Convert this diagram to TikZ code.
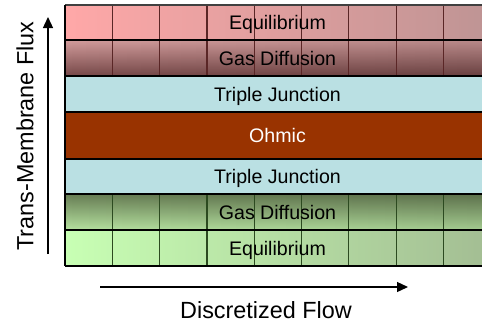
\documentclass[tikz,border=0pt]{standalone}
\usepackage{fontspec}
\setmainfont{Liberation Sans}
\usetikzlibrary{arrows.meta,fadings,calc}
\definecolor{eqLa}{HTML}{FFA8A8}
\definecolor{eqLb}{HTML}{BE9494}
\definecolor{gdTa}{HTML}{D29C9C}
\definecolor{gdTb}{HTML}{764848}
\definecolor{tjC}{HTML}{BAE0E3}
\definecolor{ohC}{HTML}{993300}
\definecolor{gdGa}{HTML}{677D54}
\definecolor{gdGb}{HTML}{B6E2A0}
\definecolor{eqGa}{HTML}{C8FFB4}
\definecolor{eqGb}{HTML}{A3BD93}
\definecolor{pinkLine}{HTML}{5A2626}
\definecolor{greenLine}{HTML}{2C4A20}
\tikzfading[name=darkright, left color=transparent!100, right color=transparent!0]
\tikzset{
  band/.style={anchor=north west, minimum width=425pt, inner sep=0pt, outer sep=0pt, draw=none},
  bandtext/.style={anchor=base, font=\fontsize{19.6}{19.6}\selectfont, inner sep=0pt},
  axlabel/.style={font=\fontsize{23.4}{23.4}\selectfont, inner sep=0pt},
  sep/.style={line width=1.4pt, black},
  pinkgrid/.style={line width=1.2pt, pinkLine},
  greengrid/.style={line width=1.2pt, greenLine},
  axarrow/.style={line width=1.3pt, -{Triangle[length=11pt,width=10pt]}}
}
\begin{document}
\begin{tikzpicture}[x=1pt,y=-1pt]
\useasboundingbox (0,0) rectangle (482,322);
\fill[white] (0,0) rectangle (482,322);
\begin{scope}
\clip (0,0) rectangle (482,322);
% bands
\node[band, minimum height=35pt, left color=eqLa, right color=eqLb] (eqT) at (65,5) {};
\node[band, minimum height=36pt, top color=gdTa, bottom color=gdTb] (gdT) at (65,40) {};
\fill[black, opacity=0.12, path fading=darkright] (gdT.north west) rectangle (gdT.south east);
\node[band, minimum height=36pt, fill=tjC] (tjT) at (65,76) {};
\node[band, minimum height=47pt, fill=ohC] (oh) at (65,112) {};
\node[band, minimum height=35pt, fill=tjC] (tjB) at (65,159) {};
\node[band, minimum height=36pt, top color=gdGa, bottom color=gdGb] (gdB) at (65,194) {};
\fill[black, opacity=0.1, path fading=darkright] (gdB.north west) rectangle (gdB.south east);
\node[band, minimum height=36pt, left color=eqGa, right color=eqGb] (eqB) at (65,230) {};
% grid lines
\foreach \k in {1,...,8} {
  \draw[pinkgrid] ($(eqT.north west)+(\k*47.3,0)$) -- ($(gdT.south west)+(\k*47.3,0)$);
  \draw[greengrid] ($(gdB.north west)+(\k*47.3,0)$) -- ($(eqB.south west)+(\k*47.3,0)$);
}
\draw[line width=1.4pt, black!75] (eqT.north west) -- (eqT.north east);
\foreach \n in {eqT,gdT,tjT,oh,tjB,gdB,eqB} {
  \draw[sep] (\n.south west) -- (\n.south east);
}
\draw[sep] (eqT.north west) -- (eqB.south west);
\end{scope}
% labels
\node[bandtext] (l1) at (277.5,29.6) {Equilibrium};
\node[bandtext] (l2) at (277.5,65.1) {Gas Diffusion};
\node[bandtext] (l3) at (277.5,101.1) {Triple Junction};
\node[bandtext, text=white] (l4) at (277.5,142.6) {Ohmic};
\node[bandtext] (l5) at (277.5,183.6) {Triple Junction};
\node[bandtext] (l6) at (277.5,219.1) {Gas Diffusion};
\node[bandtext] (l7) at (277.5,255.1) {Equilibrium};
% axes
\coordinate (vs) at (48,254);
\coordinate (ve) at (48,17);
\coordinate (hs) at (100,287);
\coordinate (he) at (408,287);
\draw[axarrow] (vs) -- (ve);
\draw[axarrow] (hs) -- (he);
\node[axlabel, rotate=90] (ylab) at (25,136) {Trans-Membrane Flux};
\node[axlabel, anchor=base] (xlab) at (266,318) {Discretized Flow};
\end{tikzpicture}
\end{document}
